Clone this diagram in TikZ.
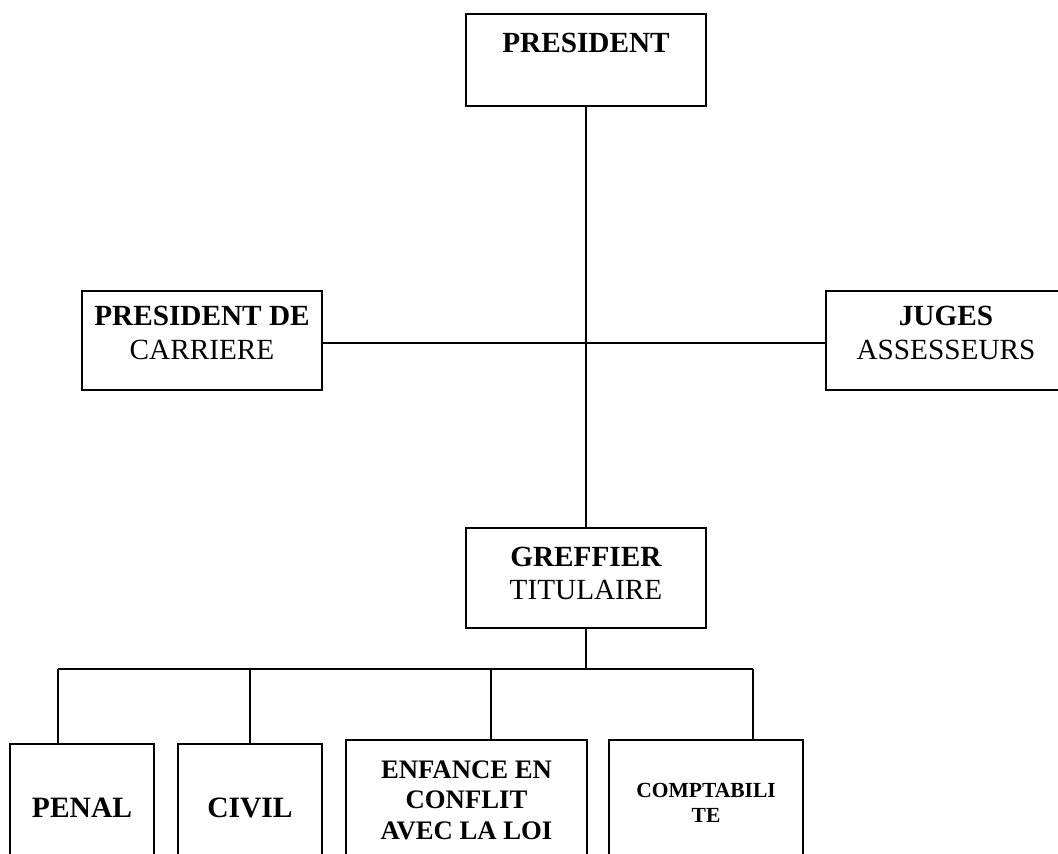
\documentclass[tikz,border=0pt]{standalone}
\usepackage{fontspec}
\setmainfont{Liberation Serif}
\usetikzlibrary{positioning}
\newcommand{\orglines}[1]{\begin{tabular}[t]{@{}c@{}}#1\end{tabular}}
\tikzset{
  orgbox/.style={rectangle, draw=black, line width=1.4pt, inner ysep=0pt, inner xsep=2pt, anchor=north},
  bigtext/.style={font=\fontsize{20.8}{23.5}\selectfont},
  link/.style={line width=1.4pt}
}

\begin{document}
\begin{tikzpicture}[x=0.025cm, y=-0.025cm]
\useasboundingbox (0,0) rectangle (1058,854);
\clip (0,0) rectangle (1058,854);

% top level
\node[orgbox, bigtext, minimum width=6cm, text height=0.975cm, text depth=1.325cm] (pres) at (586,13) {\orglines{\textbf{PRESIDENT}}};

% second level
\node[orgbox, bigtext, minimum width=6cm, text height=0.875cm, text depth=1.6cm] (pdc) at (202,290) {\orglines{\textbf{PRESIDENT DE}\\CARRIERE}};
\node[orgbox, bigtext, minimum width=6cm, text height=0.875cm, text depth=1.6cm] (jug) at (946,290) {\orglines{\textbf{JUGES}\\ASSESSEURS}};

% greffe
\node[orgbox, bigtext, minimum width=6cm, text height=0.95cm, text depth=1.55cm] (gref) at (586,527) {\orglines{\textbf{GREFFIER}\\TITULAIRE}};

% services
\node[orgbox, font=\fontsize{21}{23.5}\selectfont, minimum width=3.6cm, text height=1.825cm, text depth=2.5cm] (penal) at (82,743) {\orglines{\textbf{PENAL}}};
\node[orgbox, font=\fontsize{21}{23.5}\selectfont, minimum width=3.6cm, text height=1.825cm, text depth=2.5cm] (civil) at (250,743) {\orglines{\textbf{CIVIL}}};
\node[orgbox, font=\fontsize{19}{21.7}\selectfont\bfseries, minimum width=6.025cm, text height=0.95cm, text depth=2.5cm] (enf) at (466.5,739) {\orglines{ENFANCE EN\\CONFLIT\\AVEC LA LOI}};
\node[orgbox, font=\fontsize{15.3}{17.8}\selectfont\bfseries, minimum width=4.85cm, text height=1.425cm, text depth=2.5cm] (compta) at (706,739) {\orglines{COMPTABILI\\TE}};

\coordinate (cross) at (586,343);
\coordinate (dpenal) at (58,669);
\coordinate (dcivil) at (250,669);
\coordinate (denf) at (491,669);
\coordinate (dcompta) at (753,669);

\draw[link] (pres.south) -- (gref.north);
\draw[link] (pdc.east |- cross) -- (jug.west |- cross);
\draw[link] (gref.south) -- (gref.south |- dpenal);
\draw[link] (dpenal) -- (dcompta);
\foreach \s in {penal,civil,enf,compta}
  \draw[link] (d\s) -- (d\s |- \s.north);

\end{tikzpicture}
\end{document}
